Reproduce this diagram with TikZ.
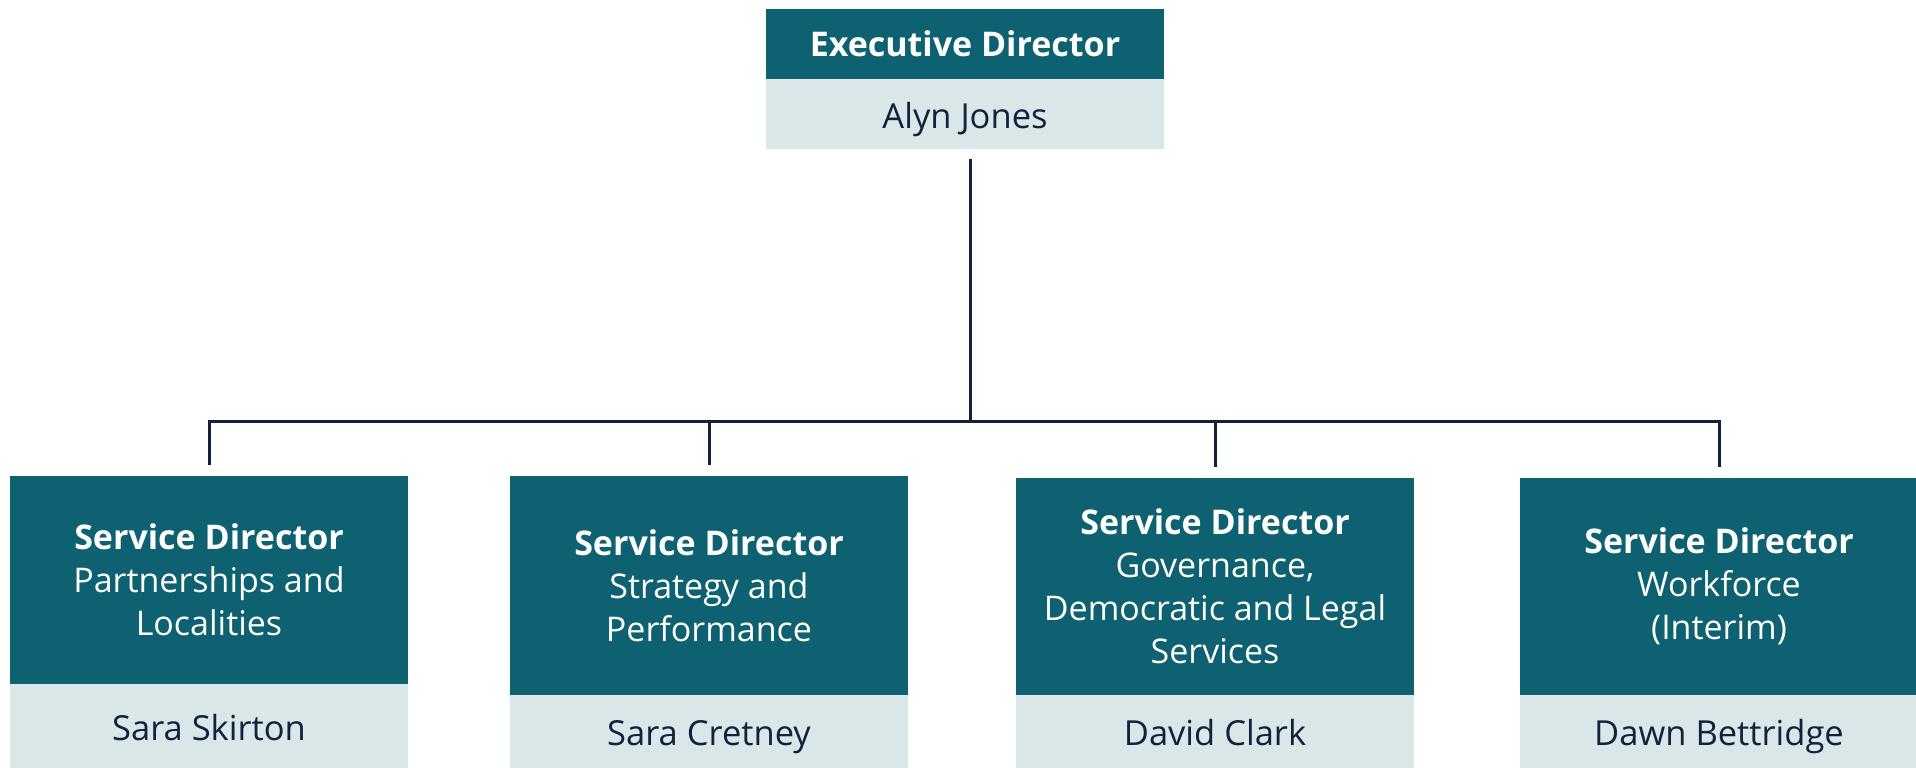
\documentclass[tikz,border=0pt]{standalone}
\usepackage{fontspec}
\setmainfont{Open Sans}
\usepackage{tikz,xcolor}
\usetikzlibrary{positioning}
\definecolor{teal}{HTML}{0D6170}
\definecolor{pale}{HTML}{D9E7E9}
\definecolor{navy}{HTML}{13213C}
\tikzstyle{head} = [rectangle, fill=teal, text=white, minimum width=398pt, inner sep=0pt, align=center, font=\fontsize{34}{43}\selectfont]
\tikzstyle{holder} = [rectangle, fill=pale, text=navy, minimum width=398pt, inner sep=0pt, text height=30pt, text depth=2pt, align=center, font=\fontsize{34.5}{43}\selectfont]
\tikzstyle{link} = [draw=navy, line width=3pt]

\begin{document}
\begin{tikzpicture}[x=1pt,y=1pt]
\useasboundingbox (0,0) rectangle (1916,768);
% executive
\node[head, minimum height=70pt] (exec) at (965,724) {\textbf{Executive Director}};
\node[holder, minimum height=70pt, below=0pt of exec] (execname) {Alyn Jones};
% service directors
\node[head, minimum height=208pt] (sd1) at (209,188)
    {\textbf{Service Director}\\Partnerships and\\Localities};
\node[holder, minimum height=84pt, below=0pt of sd1] (sd1name) {Sara Skirton};
\node[head, minimum height=219pt] (sd2) at (709,182.5)
    {\textbf{Service Director}\\Strategy and\\Performance};
\node[holder, minimum height=73pt, below=0pt of sd2] (sd2name) {Sara Cretney};
\node[head, minimum height=217pt] (sd3) at (1215,181.5)
    {\textbf{Service Director}\\Governance,\\Democratic and Legal\\Services};
\node[holder, minimum height=73pt, below=0pt of sd3] (sd3name) {David Clark};
\node[head, minimum height=217pt] (sd4) at (1719,181.5)
    {\textbf{Service Director}\\Workforce\\(Interim)};
\node[holder, minimum height=73pt, below=0pt of sd4] (sd4name) {Dawn Bettridge};
% connectors
\coordinate (top) at ([xshift=5pt,yshift=-9pt]execname.south);
\coordinate (bus) at (top |- 0,346);
\draw[link] (top) -- (bus);
\draw[link] ([yshift=11pt]sd1.north) |- (bus) -| ([yshift=11pt]sd4.north);
\foreach \n in {sd2,sd3}
    \draw[link] ([yshift=11pt]\n.north) -- (\n.north |- bus);
\end{tikzpicture}
\end{document}
